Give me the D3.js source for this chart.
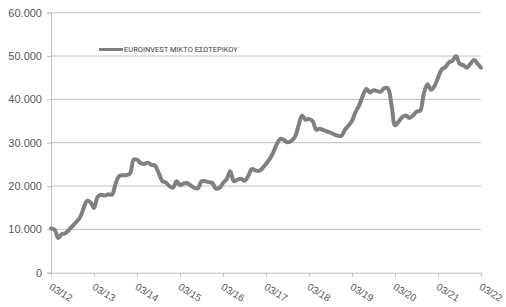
<!DOCTYPE html>
<html>
<head>
<meta charset="utf-8">
<script src="https://cdn.jsdelivr.net/npm/d3@7"></script>
<style>
  body { margin: 0; background: #fff; }
  svg { display: block; font-family: Roboto, "Noto Sans", sans-serif; }
</style>
</head>
<body>
<svg width="506" height="307"></svg>
<script>
var seriesName = "EUROINVEST ΜΙΚΤΟ ΕΣΩΤΕΡΙΚΟΥ";

// monthly values, 03/2012 .. 03/2022 (thousands)
var startDate = "2012-03-01";
var values = [
  10.2, 9.9, 8.0, 8.9, 9.1, 9.9, 10.8, 11.7, 12.7, 14.7, 16.6, 16.2,
  14.9, 17.5, 18.0, 17.8, 18.1, 18.0, 20.6, 22.3, 22.5, 22.5, 22.9, 26.1,
  26.1, 25.3, 25.1, 25.4, 24.9, 24.7, 23.1, 21.2, 20.8, 20.0, 19.6, 21.1,
  20.2, 20.6, 20.7, 20.1, 19.6, 19.5, 21.1, 21.1, 20.9, 20.7, 19.4, 19.6,
  20.7, 21.6, 23.4, 21.1, 21.5, 21.7, 21.2, 22.3, 23.9, 23.6, 23.5, 24.2,
  25.1, 26.2, 27.7, 29.7, 30.9, 30.6, 30.1, 30.4, 31.3, 33.8, 36.3, 35.3,
  35.5, 35.0, 33.0, 33.2, 32.9, 32.6, 32.3, 31.9, 31.6, 31.6, 33.0, 34.0,
  35.0, 37.1, 38.6, 40.8, 42.4, 41.6, 42.1, 41.9, 41.8, 42.6, 42.5, 38.5,
  34.0, 34.9, 35.9, 36.3, 35.7, 36.3, 37.2, 37.4, 41.4, 43.5, 42.2, 43.2,
  45.0, 46.9, 47.4, 48.5, 48.9, 50.0, 48.2, 47.9, 47.3, 48.2, 49.1, 48.2,
  47.3
];

var yTicks = [0, 10000, 20000, 30000, 40000, 50000, 60000];
var xTickLabels = ["03/12", "03/13", "03/14", "03/15", "03/16", "03/17",
                   "03/18", "03/19", "03/20", "03/21", "03/22"];

var svg = d3.select("svg"),
    margin = {top: 12.7, right: 25, bottom: 34.3, left: 51},
    width = +svg.attr("width") - margin.left - margin.right,
    height = +svg.attr("height") - margin.top - margin.bottom,
    g = svg.append("g").attr("transform", "translate(" + margin.left + "," + margin.top + ")");

var parse = d3.timeParse("%Y-%m-%d");
var t0 = parse(startDate);

var data = values.map(function(v, i) {
  return {date: d3.timeMonth.offset(t0, i), value: v * 1000};
});

var x = d3.scaleTime()
    .domain([t0, d3.timeMonth.offset(t0, 120)])
    .range([0, width]);

var y = d3.scaleLinear()
    .domain([0, 60000])
    .range([height, 0]);

var fmt = function(d) { return d3.format(",")(d).replace(/,/g, "."); };

// gridlines
g.append("g")
  .selectAll("line")
  .data(yTicks.slice(1))
  .enter().append("line")
    .attr("x1", 0)
    .attr("x2", width)
    .attr("y1", function(d) { return y(d); })
    .attr("y2", function(d) { return y(d); })
    .attr("stroke", "#bfbfbf")
    .attr("stroke-width", 1);

// y axis
var yAxis = g.append("g")
    .call(d3.axisLeft(y).tickValues(yTicks).tickFormat(fmt).tickSize(4).tickPadding(5));
yAxis.select(".domain").attr("stroke", "#bfbfbf");
yAxis.selectAll(".tick line").attr("stroke", "#bfbfbf");
yAxis.selectAll(".tick text")
    .attr("fill", "#595959")
    .style("font-size", "11px");

// x axis
var xDates = xTickLabels.map(function(d, i) { return d3.timeYear.offset(t0, i); });
var xAxis = g.append("g")
    .attr("transform", "translate(0," + height + ")")
    .call(d3.axisBottom(x).tickValues(xDates).tickFormat(function(d, i) { return xTickLabels[i]; }).tickSize(4).tickSizeOuter(0));
xAxis.select(".domain").attr("stroke", "#bfbfbf");
xAxis.selectAll(".tick line").attr("stroke", "#bfbfbf");
xAxis.selectAll(".tick text")
    .attr("fill", "#595959")
    .style("font-size", "10px")
    .attr("text-anchor", "start")
    .attr("x", 0)
    .attr("y", 0)
    .attr("dy", 0)
    .attr("transform", "translate(-3,16) rotate(32)");

// series line
var line = d3.line()
    .curve(d3.curveCatmullRom.alpha(0.5))
    .x(function(d) { return x(d.date); })
    .y(function(d) { return y(d.value); });

g.append("path")
    .datum(data)
    .attr("fill", "none")
    .attr("stroke", "#808080")
    .attr("stroke-width", 4)
    .attr("stroke-linejoin", "round")
    .attr("stroke-linecap", "round")
    .attr("d", line);

// legend
var legend = svg.append("g").attr("transform", "translate(99,49.5)");
legend.append("line")
    .attr("x1", 0).attr("x2", 24)
    .attr("stroke", "#808080")
    .attr("stroke-width", 3);
legend.append("text")
    .attr("x", 25)
    .attr("y", 2.5)
    .attr("fill", "#404040")
    .style("font-size", "7.5px")
    .text(seriesName);
</script>
</body>
</html>
